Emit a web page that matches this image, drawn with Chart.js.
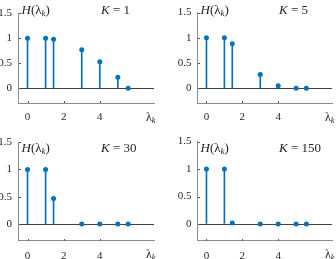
<!DOCTYPE html>
<html>
<head>
<meta charset="utf-8">
<script src="https://cdn.jsdelivr.net/npm/chart.js@4"></script>
<style>
  html, body { margin: 0; padding: 0; background: #fff; }
  #wrap { position: relative; width: 336px; height: 259px; overflow: hidden; }
  .pane { position: absolute; }
  .lbl { position: absolute; font-family: "Liberation Serif", "DejaVu Serif", serif; color: #262626; white-space: nowrap; line-height: 1; }
  .lbl i { font-style: italic; }
  .lbl sub { font-size: 70%; vertical-align: -0.25em; font-style: italic; }
</style>
</head>
<body>
<div id="wrap"></div>
<script>
// ---- data ----
const lambdas = [0, 1, 1.44, 3, 4, 5, 5.57];
const hK1   = [1, 1, 0.98, 0.77, 0.53, 0.22, 0];
const hK5   = [1, 1, 0.88, 0.27, 0.05, 0, 0];
const hK30  = [1, 1, 0.47, 0, 0, 0, 0];
const hK150 = [1, 1, 0.02, 0, 0, 0, 0];
const kValues = ['1', '5', '30', '150'];
const xTicks = [0, 2, 4];
const yTicks = [0, 0.5, 1, 1.5];

const series = [hK1, hK5, hK30, hK150];
const COLOR = '#0072BD';

// panel geometry (canvas box + plot-area insets)
const panes = [
  { left: 0,   top: 0,   w: 168, h: 129, axisW: 18.5, padTop: 3.7,  padRight: 14, axisH: 25.7, yPad: 6.5, xPad: 7, xlOff: 8 },
  { left: 168, top: 0,   w: 168, h: 129, axisW: 29.5, padTop: 3.7,  padRight: 3,  axisH: 25.7, yPad: 6,   xPad: 7, xlOff: 8 },
  { left: 0,   top: 129, w: 168, h: 130, axisW: 18.5, padTop: 12.5, padRight: 14, axisH: 18.5, yPad: 6.5, xPad: 9, xlOff: 7 },
  { left: 168, top: 129, w: 168, h: 130, axisW: 29.5, padTop: 12.5, padRight: 3,  axisH: 18.5, yPad: 6,   xPad: 9, xlOff: 7 }
];

const inwardTicks = {
  id: 'inwardTicks',
  afterDatasetsDraw(chart) {
    const { ctx, chartArea, scales } = chart;
    ctx.save();
    ctx.strokeStyle = '#555';
    ctx.lineWidth = 1;
    xTicks.forEach(v => {
      const px = Math.round(scales.x.getPixelForValue(v)) + 0.5;
      ctx.beginPath();
      ctx.moveTo(px, Math.round(chartArea.bottom));
      ctx.lineTo(px, Math.round(chartArea.bottom) - 2);
      ctx.stroke();
    });
    yTicks.forEach(v => {
      const py = Math.round(scales.y.getPixelForValue(v)) + 0.5;
      ctx.beginPath();
      ctx.moveTo(Math.round(chartArea.left), py);
      ctx.lineTo(Math.round(chartArea.left) + 2, py);
      ctx.stroke();
    });
    ctx.restore();
  }
};

const wrap = document.getElementById('wrap');

panes.forEach((p, i) => {
  const div = document.createElement('div');
  div.className = 'pane';
  div.style.left = p.left + 'px';
  div.style.top = p.top + 'px';
  div.style.width = p.w + 'px';
  div.style.height = p.h + 'px';
  const cv = document.createElement('canvas');
  cv.width = p.w; cv.height = p.h;
  div.appendChild(cv);
  wrap.appendChild(div);

  const pts = lambdas.map((x, j) => ({ x: x, y: series[i][j] }));

  new Chart(cv, {
    type: 'bar',
    data: {
      datasets: [
        { type: 'scatter', data: pts, pointRadius: 2.5, pointBackgroundColor: COLOR, pointBorderWidth: 0, pointStyle: 'circle', order: 0 },
        { type: 'bar', data: pts, backgroundColor: COLOR, barThickness: 1, borderWidth: 0, order: 1 }
      ]
    },
    options: {
      responsive: false,
      animation: false,
      events: [],
      layout: { padding: { top: p.padTop, right: p.padRight, left: 0, bottom: 0 } },
      plugins: { legend: { display: false }, tooltip: { enabled: false } },
      scales: {
        x: {
          type: 'linear', min: -0.5, max: 7, offset: false,
          afterBuildTicks: s => { s.ticks = xTicks.map(v => ({ value: v })); },
          afterFit: s => { s.height = p.axisH; },
          grid: { display: false, drawTicks: false },
          border: { display: true, color: '#8c8c8c', width: 1 },
          ticks: { padding: p.xPad, color: '#262626', font: { family: '"Liberation Serif", serif', size: 11 }, maxRotation: 0 }
        },
        y: {
          type: 'linear', min: -0.3, max: 1.5,
          afterBuildTicks: s => { s.ticks = yTicks.map(v => ({ value: v })); },
          afterFit: s => { s.width = p.axisW; },
          grid: { drawTicks: false, color: c => (c.tick && c.tick.value === 0) ? '#404040' : 'rgba(0,0,0,0)', lineWidth: 1 },
          border: { display: true, color: '#8c8c8c', width: 1 },
          ticks: { padding: p.yPad, color: '#262626', font: { family: '"Liberation Serif", serif', size: 11 },
                   callback: v => String(v) }
        }
      }
    },
    plugins: [inwardTicks]
  });

  // in-plot annotations (real text)
  const plotLeft = p.left + p.axisW;
  const plotRight = p.left + p.w - p.padRight;
  const plotTop = p.top + p.padTop;
  const plotBottom = p.top + p.h - p.axisH;

  const h = document.createElement('div');
  h.className = 'lbl';
  h.style.left = (plotLeft + 3) + 'px';
  h.style.top = (plotTop - 0.5) + 'px';
  h.style.fontSize = '13px';
  h.innerHTML = '<i>H</i>(λ<sub>k</sub>)';
  wrap.appendChild(h);

  const k = document.createElement('div');
  k.className = 'lbl';
  k.style.left = (p.left + (p.left === 0 ? 101 : 111)) + 'px';
  k.style.top = (plotTop - 0.5) + 'px';
  k.style.fontSize = '13px';
  k.innerHTML = '<i>K</i> = ' + kValues[i];
  wrap.appendChild(k);

  const xl = document.createElement('div');
  xl.className = 'lbl';
  xl.style.left = (plotRight - 8) + 'px';
  xl.style.top = (plotBottom + p.xlOff) + 'px';
  xl.style.fontSize = '12px';
  xl.innerHTML = 'λ<sub>k</sub>';
  wrap.appendChild(xl);
});
</script>
</body>
</html>
